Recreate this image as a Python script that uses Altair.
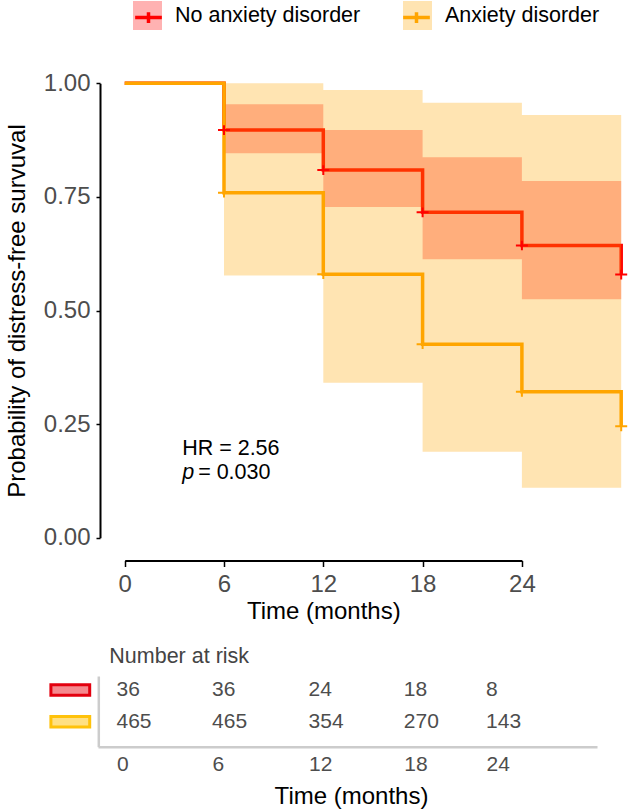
import altair as alt
import pandas as pd

FONT = "Liberation Sans"

GROUPS = ["No anxiety disorder", "Anxiety disorder"]
LINE_COLORS = ["#FF0000", "#FFA500"]

# Kaplan-Meier step estimates (time in months, survival probability)
km_time = [0, 6, 12, 18, 24, 30]
surv_no = [1.0, 0.897, 0.809, 0.716, 0.643, 0.579]
surv_anx = [1.0, 0.759, 0.580, 0.426, 0.321, 0.245]

# 95% confidence band, one value per interval starting at each time
ci_start = [6, 12, 18, 24]
ci_end = 30
lo_no = [0.846, 0.728, 0.613, 0.525]
hi_no = [0.954, 0.897, 0.837, 0.785]
lo_anx = [0.577, 0.341, 0.189, 0.110]
hi_anx = [1.000, 0.985, 0.957, 0.930]

# censoring marks
censor_time = [6, 12, 18, 24, 30]

# number-at-risk table
risk_time = [0, 6, 12, 18, 24]
risk_no = [36, 36, 24, 18, 8]
risk_anx = [465, 465, 354, 270, 143]

hr_text = "HR = 2.56"
p_value_text = "= 0.030"

# the line legend keeps its own domain so that it is drawn as a second,
# label-free legend on top of the band legend (line + cross over the box)
LINE_GROUPS = [g + " (line)" for g in GROUPS]


def band_frame(lo, hi, group):
    t = ci_start + [ci_end]
    return pd.DataFrame({"t": t, "lo": lo + [lo[-1]], "hi": hi + [hi[-1]], "grp_f": group})


def line_frame(surv, group):
    return pd.DataFrame({"t": km_time, "v": surv, "grp_s": group})


def censor_frame(surv, group):
    return pd.DataFrame({"t": censor_time, "v": surv[1:], "grp_s": group})


# ---- survival panel scales and axes ----
XS = alt.Scale(domain=[0, 24], range=[124.7, 521.9], nice=False, zero=False)
YS = alt.Scale(domain=[0, 1], range=[537.7, 83.3], nice=False, zero=False)

x_axis = alt.Axis(orient="bottom", offset=-249.5, values=[0, 6, 12, 18, 24], grid=False,
                  domainColor="black", domainWidth=2, tickColor="black", tickWidth=1.5,
                  tickSize=6, labelFontSize=24, labelColor="#4D4D4D", labelPadding=6,
                  labelFlush=False, labelOverlap=False, titleFontSize=24,
                  titleFontWeight="normal", titleColor="black", titlePadding=3)
y_axis = alt.Axis(orient="left", offset=-100, values=[0, 0.25, 0.5, 0.75, 1], format=".2f",
                  grid=False, domainColor="black", domainWidth=2, tickColor="black",
                  tickWidth=1.5, tickSize=4, labelFontSize=24, labelColor="#4D4D4D",
                  labelPadding=6, labelFlush=False, labelOverlap=False, titleFontSize=24,
                  titleFontWeight="normal", titleColor="black", titlePadding=14)

X_TITLE = "Time (months)"
Y_TITLE = "Probability of distress-free survuval"

fill_legend = alt.Legend(orient="none", legendX=133, legendY=1, direction="horizontal",
                         title=None, symbolType="square", symbolSize=841,
                         symbolStrokeWidth=0, symbolOpacity=0.3, labelFontSize=21.5,
                         labelColor="black", labelOffset=13, columnPadding=42,
                         padding=0, labelLimit=400)
stroke_legend = alt.Legend(orient="none", legendX=132, legendY=1, direction="horizontal",
                           title=None, symbolType="M-0.92,0H0.92M0,-0.37V0.37",
                           symbolSize=841, symbolStrokeWidth=3.5,
                           symbolFillColor="transparent", labelExpr="''", labelOffset=0,
                           columnPadding=227, padding=0)

fill_enc = alt.Fill("grp_f:N", scale=alt.Scale(domain=GROUPS, range=LINE_COLORS),
                    legend=fill_legend)
stroke_enc = alt.Stroke("grp_s:N", scale=alt.Scale(domain=LINE_GROUPS, range=LINE_COLORS),
                        legend=stroke_legend)


def xq():
    return alt.X("t:Q", scale=XS, axis=x_axis, title=X_TITLE)


def yq(field):
    return alt.Y(field, scale=YS, axis=y_axis, title=Y_TITLE)


def band(df):
    return alt.Chart(df).mark_area(interpolate="step-after", opacity=0.3).encode(
        x=xq(), y=yq("lo:Q"), y2="hi:Q", fill=fill_enc,
    )


def step_line(df):
    return alt.Chart(df).mark_line(interpolate="step-after", strokeWidth=3.5).encode(
        x=xq(), y=yq("v:Q"), stroke=stroke_enc,
    )


censor_df = pd.concat([censor_frame(surv_no, LINE_GROUPS[0]),
                       censor_frame(surv_anx, LINE_GROUPS[1])])
censor = alt.Chart(censor_df).mark_point(
    shape="M-1,0H1M0,-0.8V0.8", size=144, strokeWidth=2, filled=False, opacity=1
).encode(x=xq(), y=yq("v:Q"), stroke=stroke_enc)

annot_df = pd.DataFrame({"t": [3.47, 3.47], "v": [0.195, 0.142], "label": [hr_text, "p"]})
annot_hr = alt.Chart(annot_df.iloc[[0]]).mark_text(
    align="left", baseline="middle", fontSize=21.5, color="black"
).encode(x=xq(), y=yq("v:Q"), text="label:N")
annot_p = alt.Chart(annot_df.iloc[[1]]).mark_text(
    align="left", baseline="middle", fontSize=21.5, color="black", fontStyle="italic"
).encode(x=xq(), y=yq("v:Q"), text="label:N")
annot_p_rest = alt.Chart(annot_df.iloc[[1]].assign(label=p_value_text)).mark_text(
    align="left", baseline="middle", fontSize=21.5, color="black", dx=16
).encode(x=xq(), y=yq("v:Q"), text="label:N")

main = alt.layer(
    band(band_frame(lo_no, hi_no, GROUPS[0])),
    step_line(line_frame(surv_no, LINE_GROUPS[0])),
    band(band_frame(lo_anx, hi_anx, GROUPS[1])),
    step_line(line_frame(surv_anx, LINE_GROUPS[1])),
    censor,
    annot_hr,
    annot_p,
    annot_p_rest,
)

# ---- number-at-risk table ----
TX = alt.Scale(domain=[-1.15, 0, 6, 12, 18, 24, 30.9],
               range=[98, 116.5, 212.1, 308.6, 403.8, 486.1, 597], nice=False, zero=False)
TY = alt.Scale(type="point", domain=GROUPS, range=[676, 746.7], padding=0.615, align=0.359)

tx_axis = alt.Axis(orient="bottom", offset=-63.3, values=risk_time, grid=False, ticks=False,
                   tickSize=0, domainColor="#CCCCCC", domainWidth=2.5, labelAlign="left",
                   labelFontSize=21, labelColor="#4D4D4D", labelPadding=7, labelFlush=False,
                   labelOverlap=False, titleFontSize=24, titleFontWeight="normal",
                   titleColor="black", titlePadding=10, titleX=351)
ty_axis = alt.Axis(orient="left", offset=-98.3, labels=False, ticks=False, grid=False,
                   domainColor="#CCCCCC", domainWidth=2.5, title=None)

risk_df = pd.DataFrame({
    "t": risk_time * 2,
    "n": risk_no + risk_anx,
    "group": [GROUPS[0]] * len(risk_time) + [GROUPS[1]] * len(risk_time),
})

risk_text = alt.Chart(risk_df).mark_text(
    align="left", baseline="middle", fontSize=21, color="#4D4D4D"
).encode(
    x=alt.X("t:Q", scale=TX, axis=tx_axis, title=X_TITLE),
    y=alt.Y("group:N", scale=TY, axis=ty_axis),
    text="n:Q",
)

KEY_SHAPE = "M-1,-0.268H1V0.268H-1Z"
key_style = {
    GROUPS[0]: ("#F5898E", "#E3000F"),
    GROUPS[1]: ("#FFE083", "#FFC20A"),
}


def key(group):
    fill, stroke = key_style[group]
    return alt.Chart(pd.DataFrame({"group": [group]})).mark_point(
        shape=KEY_SHAPE, size=1505, filled=True, fill=fill, stroke=stroke,
        strokeWidth=3, opacity=1
    ).encode(
        x=alt.value(70.3),
        y=alt.Y("group:N", scale=TY, axis=ty_axis),
    )


heading = alt.Chart(pd.DataFrame({"label": ["Number at risk"]})).mark_text(
    align="left", baseline="middle", fontSize=21.5, color="#444444"
).encode(x=alt.value(109.3), y=alt.value(657), text="label:N")

table = alt.layer(risk_text, key(GROUPS[0]), key(GROUPS[1]), heading)

chart = alt.layer(main, table).resolve_scale(
    x="independent", y="independent"
).properties(
    width=630, height=810, autosize=alt.AutoSizeParams(type="none"), padding=0
).configure(font=FONT).configure_view(strokeWidth=0)

chart.save("out.html", embed_options={"renderer": "svg", "actions": False})
